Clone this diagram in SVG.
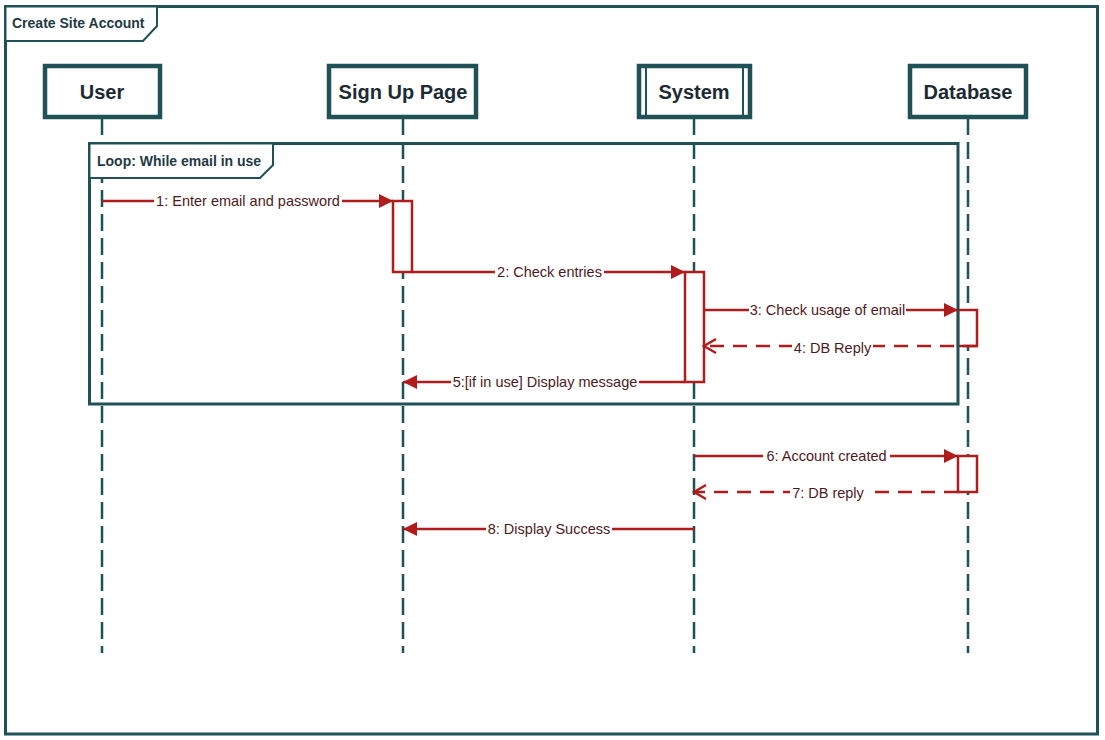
<svg xmlns="http://www.w3.org/2000/svg" width="1105" height="740" viewBox="0 0 1105 740">
<style>
.frame{fill:none;stroke:#1f5156;stroke-width:3}
.tab{fill:#fff;stroke:#1f5156;stroke-width:2}
.head{fill:#fff;stroke:#1f5156;stroke-width:4.5}
.htxt{font-family:"Liberation Sans",Arial,sans-serif;font-size:20px;font-weight:bold;fill:#1c2b33;text-anchor:middle}
.ftxt{font-family:"Liberation Sans",Arial,sans-serif;font-size:14px;font-weight:bold;fill:#1f3a44}
.life{stroke:#1f5156;stroke-width:2.5;stroke-dasharray:17 7;fill:none}
.msg{stroke:#b01c1c;stroke-width:2.5;fill:none}
.rep{stroke:#b01c1c;stroke-width:2.5;fill:none;stroke-dasharray:14 9}
.act{fill:#fff;stroke:#b01c1c;stroke-width:2.5}
.lbg{fill:#fff}
.ltxt{font-family:"Liberation Sans",Arial,sans-serif;font-size:14.5px;fill:#4e1a22;text-anchor:middle}
</style>
<defs>
<marker id="fill" markerUnits="userSpaceOnUse" markerWidth="16" markerHeight="16" refX="15" refY="8" orient="auto"><path d="M1,1 L15,8 L1,15 Z" fill="#b01c1c"/></marker>
<marker id="open" markerUnits="userSpaceOnUse" markerWidth="18" markerHeight="18" refX="16" refY="9" orient="auto"><path d="M4,2 L16,9 L4,16" fill="none" stroke="#b01c1c" stroke-width="2.5"/></marker>
</defs>
<rect width="1105" height="740" fill="#fff"/>
<g id="frame-outer">
<rect class="frame" x="5.5" y="6.5" width="1092" height="727.5"/>
<path class="tab" d="M5.5,6.5 H157 V26 L143,41 H5.5 Z"/>
<text class="ftxt" x="12" y="28">Create Site Account</text>
</g>
<g id="lifelines">
<line class="life" x1="102" y1="118" x2="102" y2="653"/>
<line class="life" x1="403" y1="118" x2="403" y2="653"/>
<line class="life" x1="694" y1="118" x2="694" y2="653"/>
<line class="life" x1="968" y1="118" x2="968" y2="653"/>
</g>
<g id="user"><rect class="head" x="45" y="66" width="115" height="51"/><text class="htxt" x="102" y="99">User</text></g>
<g id="signup"><rect class="head" x="329" y="66" width="147" height="51"/><text class="htxt" x="403" y="99">Sign Up Page</text></g>
<g id="system"><rect class="head" x="639" y="66" width="111" height="51"/><line x1="646" y1="66" x2="646" y2="117" stroke="#1f5156" stroke-width="2"/><line x1="743" y1="66" x2="743" y2="117" stroke="#1f5156" stroke-width="2"/><text class="htxt" x="694" y="99">System</text></g>
<g id="database"><rect class="head" x="910" y="66" width="116" height="51"/><text class="htxt" x="968" y="99">Database</text></g>
<g id="activations">
<rect class="act" x="393" y="201" width="19" height="71"/>
<rect class="act" x="685" y="272" width="19" height="110"/>
<rect class="act" x="958" y="310" width="19" height="36"/>
<rect class="act" x="958" y="456" width="19" height="36"/>
</g>
<g id="loop">
<rect class="frame" x="89.5" y="143.5" width="868.5" height="260.5" stroke-width="2.5"/>
<path class="tab" d="M89.5,143.5 H273 V165 L260,178 H89.5 Z"/>
<text class="ftxt" x="97" y="166">Loop: While email in use</text>
</g>
<g id="connectors">
<line class="msg" x1="102" y1="201" x2="393" y2="201" marker-end="url(#fill)"/>
<rect class="lbg" x="154" y="192" width="188" height="18"/>
<text class="ltxt" x="248" y="206">1: Enter email and password</text>
<line class="msg" x1="412" y1="272" x2="685" y2="272" marker-end="url(#fill)"/>
<rect class="lbg" x="495" y="263" width="109" height="18"/>
<text class="ltxt" x="549.5" y="277">2: Check entries</text>
<line class="msg" x1="704" y1="310" x2="958" y2="310" marker-end="url(#fill)"/>
<rect class="lbg" x="749" y="301" width="157" height="18"/>
<text class="ltxt" x="827.5" y="315">3: Check usage of email</text>
<line class="rep" x1="977" y1="346" x2="704" y2="346" marker-end="url(#open)"/>
<rect class="lbg" x="792" y="337" width="81" height="18"/>
<text class="ltxt" x="832.5" y="353">4: DB Reply</text>
<line class="msg" x1="685" y1="382" x2="403" y2="382" marker-end="url(#fill)"/>
<rect class="lbg" x="451" y="373" width="188" height="18"/>
<text class="ltxt" x="545" y="387">5:[if in use] Display message</text>
<line class="msg" x1="694" y1="456" x2="958" y2="456" marker-end="url(#fill)"/>
<rect class="lbg" x="763" y="447" width="127" height="18"/>
<text class="ltxt" x="826.5" y="461">6: Account created</text>
<line class="rep" x1="958" y1="492" x2="694" y2="492" marker-end="url(#open)"/>
<rect class="lbg" x="790" y="483" width="76" height="18"/>
<text class="ltxt" x="828" y="498">7: DB reply</text>
<line class="msg" x1="694" y1="529" x2="403" y2="529" marker-end="url(#fill)"/>
<rect class="lbg" x="486" y="520" width="126" height="18"/>
<text class="ltxt" x="549" y="534">8: Display Success</text>
</g>
</svg>
